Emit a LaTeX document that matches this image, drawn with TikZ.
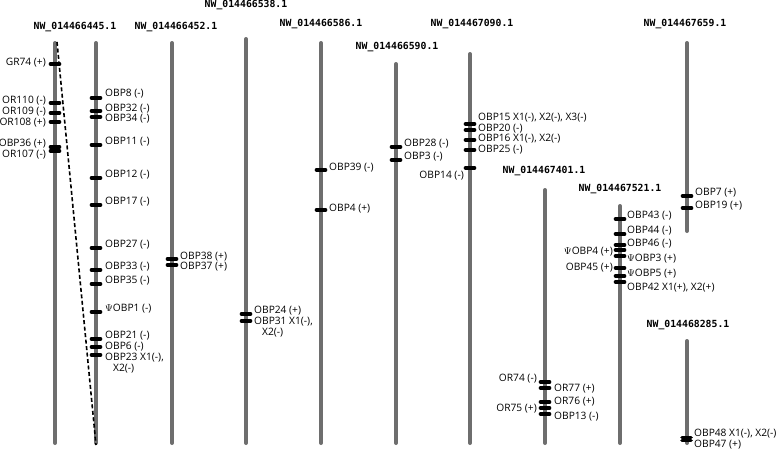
\documentclass[tikz,border=0pt]{standalone}
\usepackage{fontspec}
\setmainfont{Open Sans}
\newfontfamily\monob{DejaVu Sans Mono}
\definecolor{chromgray}{RGB}{110,110,110}
\tikzset{
  chrom/.style={line width=4pt, draw=chromgray, line cap=round},
  mk/.style={line width=3.6pt, draw=black, line cap=round},
  dashline/.style={line width=1.6pt, draw=black, dash pattern=on 4pt off 2.5pt},
  chrlab/.style={inner sep=0pt, font=\monob\bfseries\fontsize{9.8}{11}\selectfont},
  rl/.style={anchor=west, inner sep=0pt, text height=7.2pt, text depth=0pt, font=\fontsize{10.2}{12}\selectfont},
  ll/.style={anchor=east, inner sep=0pt, text height=7.2pt, text depth=0pt, font=\fontsize{10.2}{12}\selectfont},
}
\newcommand\mkr[2]{\draw[mk] ({#1-4.5},#2) -- ({#1+4.5},#2);}
\begin{document}
\begin{tikzpicture}[x=1pt,y=-1pt]
\useasboundingbox (0,0) rectangle (778,450);
% chromosome labels
\node[chrlab] (l1) at (75,27) {NW\_014466445.1};
\node[chrlab] (l2) at (176,27) {NW\_014466452.1};
\node[chrlab] (l3) at (246,5) {NW\_014466538.1};
\node[chrlab] (l4) at (321,24) {NW\_014466586.1};
\node[chrlab] (l5) at (397,47) {NW\_014466590.1};
\node[chrlab] (l6) at (472,24) {NW\_014467090.1};
\node[chrlab] (l7) at (544,171) {NW\_014467401.1};
\node[chrlab] (l8) at (620,189) {NW\_014467521.1};
\node[chrlab] (l9) at (685,24) {NW\_014467659.1};
\node[chrlab] (l10) at (688,325) {NW\_014468285.1};
% chromosome bars
\draw[chrom] (55,43) -- (55,443);
\draw[chrom] (96,43) -- (96,443);
\draw[chrom] (172,43) -- (172,443);
\draw[chrom] (246,39) -- (246,443);
\draw[chrom] (321,43) -- (321,443);
\draw[chrom] (396,64) -- (396,443);
\draw[chrom] (470,54) -- (470,443);
\draw[chrom] (545,190) -- (545,443);
\draw[chrom] (620,206) -- (620,443);
\draw[chrom] (687,43) -- (687,231);
\draw[chrom] (687,341) -- (687,443);
% markers bar 1
\mkr{55}{64}\mkr{55}{103}\mkr{55}{113}\mkr{55}{122}\mkr{55}{147}\mkr{55}{151}
% bar 2
\mkr{96}{98}\mkr{96}{111}\mkr{96}{117}\mkr{96}{145}\mkr{96}{178}\mkr{96}{205}
\mkr{96}{248}\mkr{96}{270}\mkr{96}{284}\mkr{96}{312}\mkr{96}{339}\mkr{96}{347}\mkr{96}{355}
% bar 3
\mkr{172}{259}\mkr{172}{265}
% bar 4
\mkr{246}{314}\mkr{246}{321}
% bar 5
\mkr{321}{170}\mkr{321}{210}
% bar 6
\mkr{396}{147}\mkr{396}{160}
% bar 7
\mkr{470}{124}\mkr{470}{130}\mkr{470}{140}\mkr{470}{150}\mkr{470}{168}
% bar 8
\mkr{545}{382}\mkr{545}{388}\mkr{545}{402}\mkr{545}{408}\mkr{545}{414}
% bar 9
\mkr{620}{219}\mkr{620}{234}\mkr{620}{245}\mkr{620}{250}\mkr{620}{256}\mkr{620}{268}\mkr{620}{276}\mkr{620}{282}
% bar 10
\mkr{687}{196}\mkr{687}{208}
% bar 11
\draw[mk] (682,437.5) -- (691,437.5);
\draw[mk] (682,440.5) -- (691,440.5);
% dashed link
\coordinate (c1t) at (57,42);
\coordinate (c2b) at (96,445);
\draw[dashline] (c1t) -- (c2b);
% labels bar 1
\node[ll] (g1) at (46,62) {GR74 (+)};
\node[ll] (g2) at (46,100) {OR110 (-)};
\node[ll] (g3) at (46,111) {OR109 (-)};
\node[ll] (g4) at (46,122) {OR108 (+)};
\node[ll] (g5) at (46,143) {OBP36 (+)};
\node[ll] (g6) at (46,154) {OR107 (-)};
% labels bar 2
\node[rl] (h1) at (105,93) {OBP8 (-)};
\node[rl] (h2) at (105,108) {OBP32 (-)};
\node[rl] (h3) at (105,118) {OBP34 (-)};
\node[rl] (h4) at (105,141) {OBP11 (-)};
\node[rl] (h5) at (105,174) {OBP12 (-)};
\node[rl] (h6) at (105,201) {OBP17 (-)};
\node[rl] (h7) at (105,244) {OBP27 (-)};
\node[rl] (h8) at (105,266) {OBP33 (-)};
\node[rl] (h9) at (105,280) {OBP35 (-)};
\node[rl] (h10) at (105,308) {$\Psi$OBP1 (-)};
\node[rl] (h11) at (105,335) {OBP21 (-)};
\node[rl] (h12) at (105,346) {OBP6 (-)};
\node[rl] (h13) at (105,357) {OBP23 X1(-),};
\node[rl] (h14) at (113,368) {X2(-)};
% bar 3
\node[rl] (i1) at (180,256) {OBP38 (+)};
\node[rl] (i2) at (180,266) {OBP37 (+)};
% bar 4
\node[rl] (j1) at (254,310) {OBP24 (+)};
\node[rl] (j2) at (254,321) {OBP31 X1(-),};
\node[rl] (j3) at (262,332) {X2(-)};
% bar 5
\node[rl] (k1) at (329,167) {OBP39 (-)};
\node[rl] (k2) at (329,208) {OBP4 (+)};
% bar 6
\node[rl] (m1) at (404,143) {OBP28 (-)};
\node[rl] (m2) at (404,156) {OBP3 (-)};
% bar 7
\node[rl] (n1) at (478,117) {OBP15 X1(-), X2(-), X3(-)};
\node[rl] (n2) at (478,128) {OBP20 (-)};
\node[rl] (n3) at (478,138) {OBP16 X1(-), X2(-)};
\node[rl] (n4) at (478,149) {OBP25 (-)};
\node[ll] (n5) at (464,175) {OBP14 (-)};
% bar 8
\node[ll] (p1) at (537,378) {OR74 (-)};
\node[rl] (p2) at (554,388) {OR77 (+)};
\node[rl] (p3) at (554,401) {OR76 (+)};
\node[ll] (p4) at (537,408) {OR75 (+)};
\node[rl] (p5) at (554,416) {OBP13 (-)};
% bar 9
\node[rl] (q1) at (627,215) {OBP43 (-)};
\node[rl] (q2) at (627,230) {OBP44 (-)};
\node[rl] (q3) at (627,243) {OBP46 (-)};
\node[ll] (q4) at (613,251) {$\Psi$OBP4 (+)};
\node[rl] (q5) at (627,258) {$\Psi$OBP3 (+)};
\node[ll] (q6) at (613,267) {OBP45 (+)};
\node[rl] (q7) at (627,273) {$\Psi$OBP5 (+)};
\node[rl] (q8) at (627,287) {OBP42 X1(+), X2(+)};
% bar 10
\node[rl] (r1) at (695,192) {OBP7 (+)};
\node[rl] (r2) at (695,205) {OBP19 (+)};
% bar 11
\node[rl] (s1) at (694,433) {OBP48 X1(-), X2(-)};
\node[rl] (s2) at (694,444) {OBP47 (+)};
\end{tikzpicture}
\end{document}
